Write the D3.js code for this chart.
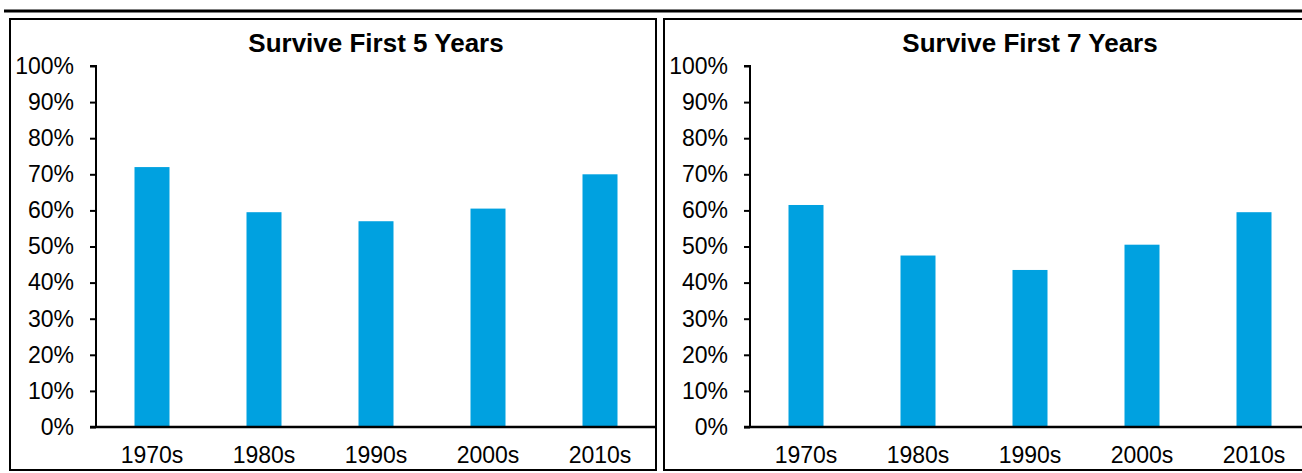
<!DOCTYPE html>
<html>
<head>
<meta charset="utf-8">
<script src="https://cdn.jsdelivr.net/npm/d3@7"></script>
<style>
  html, body { margin: 0; padding: 0; background: #fff; }
  svg { display: block; }
  text { font-family: "Liberation Sans", Arial, sans-serif; fill: #000; }
</style>
</head>
<body>
<svg id="chart" width="1302" height="473"></svg>
<script>
// Survival rates by decade of listing
const decades = ["1970s", "1980s", "1990s", "2000s", "2010s"];
const survive5 = [72, 59.5, 57, 60.5, 70];
const survive7 = [61.5, 47.5, 43.5, 50.5, 59.5];
const yTicks = [0, 10, 20, 30, 40, 50, 60, 70, 80, 90, 100];
const titles = ["Survive First 5 Years", "Survive First 7 Years"];

const svg = d3.select("#chart");
const barColor = "#00a1e0";

// heavy rule across the top
svg.append("line")
  .attr("x1", 4).attr("x2", 1302)
  .attr("y1", 11).attr("y2", 11)
  .attr("stroke", "#000").attr("stroke-width", 3);

const panels = [
  { x: 10, title: titles[0], values: survive5 },
  { x: 664, title: titles[1], values: survive7 }
];

const panelW = 646, panelTop = 19, panelBottom = 470;
const axisOffset = 86;              // y-axis position inside a panel
const plotTop = 66, plotBottom = 427, plotW = 560;

panels.forEach(p => {
  const g = svg.append("g");

  // panel frame
  g.append("rect")
    .attr("x", p.x).attr("y", panelTop)
    .attr("width", panelW).attr("height", panelBottom - panelTop)
    .attr("fill", "none").attr("stroke", "#000").attr("stroke-width", 2);

  const x0 = p.x + axisOffset;
  const x = d3.scaleBand()
    .domain(decades)
    .range([x0, x0 + plotW])
    .paddingInner(0.6875)
    .paddingOuter(0.34375);
  const y = d3.scaleLinear().domain([0, 100]).range([plotBottom, plotTop]);

  // title
  g.append("text")
    .attr("x", p.x + 366)
    .attr("y", 52)
    .attr("text-anchor", "middle")
    .style("font-size", "26px")
    .style("font-weight", "bold")
    .text(p.title);

  // bars
  g.selectAll("rect.bar")
    .data(p.values)
    .join("rect")
    .attr("class", "bar")
    .attr("x", (d, i) => x(decades[i]))
    .attr("width", x.bandwidth())
    .attr("y", d => y(d))
    .attr("height", d => y(0) - y(d))
    .attr("fill", barColor);

  // y axis
  const yAxis = d3.axisLeft(y)
    .tickValues(yTicks)
    .tickFormat(d => d + "%")
    .tickSize(6)
    .tickPadding(16);
  const ya = g.append("g")
    .attr("transform", `translate(${x0},0)`)
    .call(yAxis);
  ya.select(".domain").attr("stroke", "#000").attr("stroke-width", 2)
    .attr("d", `M-6,${plotTop}H0V${plotBottom}`);
  ya.selectAll(".tick line").attr("stroke", "#000").attr("stroke-width", 2);
  ya.selectAll(".tick text")
    .style("font-size", "23px")
    .style("font-family", "'Liberation Sans', Arial, sans-serif")
    .attr("fill", "#000");

  // x axis
  const xAxis = d3.axisBottom(x).tickSize(0).tickPadding(20);
  const xa = g.append("g")
    .attr("transform", `translate(0,${plotBottom})`)
    .call(xAxis);
  xa.select(".domain").attr("stroke", "#000").attr("stroke-width", 2.5)
    .attr("d", `M${x0 - 6},0H${Math.min(p.x + panelW, x0 + plotW)}`);
  xa.selectAll(".tick text")
    .style("font-size", "23px")
    .style("font-family", "'Liberation Sans', Arial, sans-serif")
    .attr("fill", "#000");
});
</script>
</body>
</html>
